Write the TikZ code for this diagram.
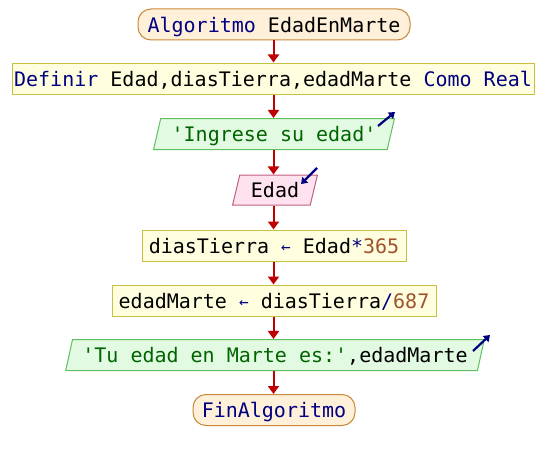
\documentclass[tikz,border=0pt]{standalone}
\usepackage{fontspec}
\setmonofont{DejaVu Sans Mono}
\usetikzlibrary{arrows.meta,shapes.geometric}

\definecolor{kw}{HTML}{000080}
\definecolor{strc}{HTML}{006400}
\definecolor{numc}{HTML}{A0522D}
\definecolor{flowc}{HTML}{C00000}
\definecolor{termfill}{HTML}{FFF0DA}
\definecolor{termline}{HTML}{C8883A}
\definecolor{procfill}{HTML}{FFFFE0}
\definecolor{procline}{HTML}{C8C040}
\definecolor{iofill}{HTML}{E2FAE2}
\definecolor{ioline}{HTML}{60C060}
\definecolor{rdfill}{HTML}{FFE2F0}
\definecolor{rdline}{HTML}{C06080}

\newcommand{\kwd}[1]{\textcolor{kw}{#1}}
\newcommand{\strg}[1]{\textcolor{strc}{#1}}
\newcommand{\numb}[1]{\textcolor{numc}{#1}}
\newcommand{\assign}{\kwd{\raisebox{1pt}{\fontsize{16}{16}\selectfont ←}}}

\tikzset{
  x=1pt, y=-1pt,
  base/.style={font=\ttfamily\fontsize{20}{20}\selectfont, inner sep=0pt, text depth=0pt, line width=1pt},
  terminal/.style={base, draw=termline, fill=termfill, rounded corners=13pt, minimum height=31pt},
  process/.style={base, draw=procline, fill=procfill, minimum height=31pt},
  inout/.style={base, shape=trapezium, trapezium left angle=67, trapezium right angle=113,
    trapezium stretches=true, draw=ioline, fill=iofill, minimum height=31pt},
  readbox/.style={base, shape=trapezium, trapezium left angle=72, trapezium right angle=108,
    trapezium stretches=true, draw=rdline, fill=rdfill, minimum height=30pt},
  flow/.style={draw=flowc, line width=2pt, -{Triangle[length=8pt,width=11pt]}},
  iconarrow/.style={draw=kw, line width=2.2pt, -{Triangle[length=6pt,width=8pt]}},
}

\begin{document}
\begin{tikzpicture}
  \useasboundingbox (0,0) rectangle (548,460);

  \node[terminal, minimum width=272pt] (start) at (274,24.5) {\kwd{Algoritmo} EdadEnMarte};
  \node[process, minimum width=522pt] (def) at (273,78.5)
    {\kwd{Definir} Edad,diasTierra,edadMarte \kwd{Como Real}};
  \node[inout, minimum width=241pt] (ask) at (274,134) {\strg{'Ingrese su edad'}};
  \node[readbox, minimum width=85pt] (read) at (275,190) {Edad};
  \node[process, minimum width=264pt] (calc1) at (274,245.5)
    {diasTierra \assign{} Edad\kwd{*}\numb{365}};
  \node[process, minimum width=324pt] (calc2) at (274,300.5)
    {edadMarte \assign{} diasTierra\kwd{/}\numb{687}};
  \node[inout, minimum width=420pt] (show) at (275,355)
    {\strg{'Tu edad en Marte es:'},edadMarte};
  \node[terminal, minimum width=162pt] (stop) at (274,410) {\kwd{FinAlgoritmo}};

  % input / output markers
  \coordinate (askA) at (378,126);
  \coordinate (askB) at (395,112);
  \draw[iconarrow] (askA) -- (askB);
  \coordinate (readA) at (317,168);
  \coordinate (readB) at (301,184);
  \draw[iconarrow] (readA) -- (readB);
  \coordinate (showA) at (473,351);
  \coordinate (showB) at (490,335);
  \draw[iconarrow] (showA) -- (showB);

  % flow of control
  \draw[flow] (start.south -| 273.5,0) -- (def.north -| 273.5,0);
  \draw[flow] (def.south -| 273.5,0) -- (ask.north -| 273.5,0);
  \draw[flow] (ask.south -| 273.5,0) -- (read.north -| 273.5,0);
  \draw[flow] (read.south -| 273.5,0) -- (calc1.north -| 273.5,0);
  \draw[flow] (calc1.south -| 273.5,0) -- (calc2.north -| 273.5,0);
  \draw[flow] (calc2.south -| 273.5,0) -- (show.north -| 273.5,0);
  \draw[flow] (show.south -| 273.5,0) -- (stop.north -| 273.5,0);
\end{tikzpicture}
\end{document}
